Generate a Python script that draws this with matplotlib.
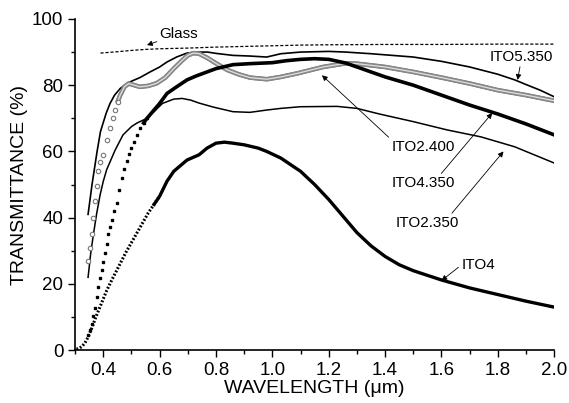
import matplotlib
matplotlib.use("Agg")
import matplotlib.pyplot as plt
import matplotlib.patheffects as pe
import numpy as np

plt.rcParams['font.family'] = ['Liberation Sans', 'DejaVu Sans']

# wavelength (um) / transmittance (%)
glass_x = [0.39, 0.45, 0.5, 0.55, 0.6, 0.7, 0.8, 0.9, 1.0, 1.1, 1.2, 1.4, 1.6, 1.8, 2.0]
glass_y = [89.7, 90.1, 90.5, 90.8, 91.0, 91.2, 91.5, 91.7, 91.9, 92.1, 92.2, 92.3, 92.3, 92.4, 92.4]

ito5350_x = [0.346, 0.36, 0.378, 0.39, 0.41, 0.424, 0.44, 0.46, 0.48, 0.5, 0.53, 0.566,
             0.6, 0.626, 0.66, 0.697, 0.73, 0.77, 0.8, 0.86, 0.92, 0.98, 1.03, 1.1,
             1.2, 1.26, 1.35, 1.5, 1.6, 1.7, 1.8, 1.86, 1.9, 1.95, 2.0]
ito5350_y = [41, 50, 60, 66, 71.5, 74.5, 77, 79, 80.3, 81.2, 82.3, 84,
             85.5, 87, 88.5, 89.7, 90, 90, 89.6, 89, 88.8, 88.5, 89.5, 90,
             90.2, 90, 89.5, 88.5, 87.2, 85.5, 83.3, 81.6, 80.2, 78.5, 76.5]

ito2400_x = [0.347, 0.353, 0.359, 0.365, 0.371, 0.377, 0.383, 0.39, 0.4, 0.412, 0.424,
             0.433, 0.442, 0.451, 0.46, 0.475, 0.49, 0.51, 0.53, 0.56, 0.59, 0.62,
             0.65, 0.68, 0.7, 0.72, 0.74, 0.77, 0.8, 0.84, 0.88, 0.92, 0.98, 1.03,
             1.09, 1.18, 1.26, 1.3, 1.4, 1.5, 1.6, 1.7, 1.8, 1.9, 2.0]
ito2400_y = [27, 31, 35, 40, 45, 49.5, 54, 56.8, 59, 63.5, 67,
             70, 72.5, 75, 77, 79.5, 80.5, 80, 79.5, 79.8, 80.6, 82.3,
             85, 87.5, 89, 89.7, 89.5, 88.2, 86.6, 84.6, 83.3, 82.3, 81.8, 82.5,
             83.6, 85.5, 86.6, 86.5, 85.5, 84, 82.3, 80.5, 78.5, 77, 75.3]

ito4350_x = [0.346, 0.352, 0.359, 0.365, 0.371, 0.377, 0.383, 0.389, 0.395, 0.4, 0.406,
             0.412, 0.418, 0.424, 0.43, 0.439, 0.448, 0.457, 0.466, 0.475, 0.484,
             0.492, 0.5, 0.51, 0.52, 0.53, 0.543, 0.555, 0.6, 0.626, 0.66, 0.697,
             0.73, 0.768, 0.8, 0.86, 0.92, 1.0, 1.05, 1.1, 1.15, 1.2, 1.26, 1.3,
             1.4, 1.5, 1.6, 1.7, 1.8, 1.9, 2.0]
ito4350_y = [4.5, 6, 8, 10.3, 12.7, 16, 19, 21.7, 24.2, 26.7, 29.2,
             32, 35, 37.2, 39.3, 42, 44.5, 48.5, 52, 54.6, 57,
             59.2, 61, 63, 65, 67, 68.6, 70, 74.5, 77.5, 79.5, 81.6,
             82.8, 84, 85, 86.2, 86.5, 86.8, 87.4, 87.8, 88, 87.8, 86.7, 85.5,
             82.5, 80, 77, 74, 71.3, 68.3, 65]

ito2350_x = [0.346, 0.355, 0.365, 0.377, 0.389, 0.4, 0.412, 0.442, 0.47, 0.5, 0.52,
             0.555, 0.58, 0.61, 0.65, 0.68, 0.71, 0.74, 0.79, 0.86, 0.92, 0.98,
             1.03, 1.1, 1.23, 1.3, 1.38, 1.5, 1.62, 1.74, 1.86, 1.9, 2.0]
ito2350_y = [22, 29, 35, 41.5, 47, 51, 54.5, 60.4, 65, 67.5, 68.6,
             70, 72, 74.5, 75.8, 76, 75.5, 74.6, 73.4, 72, 71.8, 72.5,
             73, 73.5, 73.6, 73, 71.3, 69, 66.5, 64.4, 61.4, 60, 56.5]

ito4_x = [0.305, 0.315, 0.325, 0.335, 0.345, 0.355, 0.365, 0.375, 0.388, 0.4, 0.412,
          0.425, 0.438, 0.45, 0.465, 0.48, 0.5, 0.52, 0.54, 0.56, 0.58, 0.6,
          0.626, 0.65, 0.697, 0.74, 0.768, 0.8, 0.83, 0.86, 0.9, 0.95, 0.98,
          1.03, 1.1, 1.15, 1.2, 1.25, 1.3, 1.35, 1.4, 1.45, 1.5, 1.6, 1.7, 1.8,
          1.9, 2.0]
ito4_y = [0.3, 0.6, 1.2, 2.2, 3.8, 5.8, 8, 10.3, 13, 15.5, 18,
          20.3, 22.5, 24.5, 27, 29.5, 32.5, 35.5, 38.5, 41.5, 44, 46.5,
          51, 54, 57.4, 59, 61, 62.5, 62.8, 62.5, 62, 61, 60,
          58, 54, 50, 45.5, 40.5, 35.5, 31.5, 28.3, 25.8, 24, 21.2, 18.8, 16.8,
          14.8, 13]

fig = plt.figure(figsize=(5.69, 4.03), dpi=100)
ax = fig.add_axes([0.132, 0.131, 0.842, 0.822])

ax.plot(glass_x, glass_y, color='black', lw=0.9, ls=(0, (2.5, 1.5)))
ax.plot(ito5350_x, ito5350_y, color='black', lw=1.2)
ax.plot(ito2350_x, ito2350_y, color='black', lw=1.1)

# ITO2.400: chain of grey hollow circles
x24 = np.array(ito2400_x)
y24 = np.array(ito2400_y)
steep = x24 < 0.46
ax.plot(x24[x24 >= 0.451], y24[x24 >= 0.451], color='#8a8a8a', lw=3.0,
        solid_capstyle='round',
        path_effects=[pe.Stroke(linewidth=3.3, foreground='#707070'), pe.Normal()])
ax.plot(x24[x24 >= 0.451], y24[x24 >= 0.451], color='#e0e0e0', lw=0.9)
ax.plot(x24[steep], y24[steep], ls='none', marker='o', ms=3.2, mfc='white',
        mec='#777777', mew=0.8)

# ITO4.350: dotted start then thick line
x43 = np.array(ito4350_x)
y43 = np.array(ito4350_y)
ax.plot(x43[x43 <= 0.555], y43[x43 <= 0.555], ls='none', marker='s', ms=2.0,
        color='black')
ax.plot(x43[x43 >= 0.543], y43[x43 >= 0.543], color='black', lw=2.6)

# ITO4: fine dots then thick line
x4 = np.array(ito4_x)
y4 = np.array(ito4_y)
ax.plot(x4[x4 <= 0.6], y4[x4 <= 0.6], color='black', lw=2.2, ls=(0, (0.6, 0.6)))
ax.plot(x4[x4 >= 0.58], y4[x4 >= 0.58], color='black', lw=2.4)

arrow = dict(arrowstyle='-|>', color='black', lw=0.6, mutation_scale=8,
             shrinkA=0, shrinkB=0)
fs = 11
ax.annotate('Glass', xy=(0.555, 92.1), xytext=(0.6, 95.5), fontsize=fs,
            va='center', ha='left', arrowprops=arrow)
ax.annotate('ITO5.350', xy=(1.87, 81.6), xytext=(1.885, 88.5), fontsize=fs,
            va='center', ha='center', arrowprops=arrow)
ax.annotate('ITO2.400', xy=(1.176, 83), xytext=(1.535, 61.4), fontsize=fs,
            va='center', ha='center',
            arrowprops=dict(arrow, relpos=(0.0, 1.0)))
ax.annotate('ITO4.350', xy=(1.78, 71.6), xytext=(1.535, 50.4), fontsize=fs,
            va='center', ha='center',
            arrowprops=dict(arrow, relpos=(0.75, 1.0)))
ax.annotate('ITO2.350', xy=(1.82, 60), xytext=(1.55, 38.4), fontsize=fs,
            va='center', ha='center',
            arrowprops=dict(arrow, relpos=(0.85, 1.0)))
ax.annotate('ITO4', xy=(1.6, 21), xytext=(1.73, 25.7), fontsize=fs,
            va='center', ha='center',
            arrowprops=dict(arrow, relpos=(0.0, 0.5)))

ax.set_xlim(0.3, 2.0)
ax.set_ylim(0, 100)
ax.set_xticks(np.arange(0.4, 2.01, 0.2))
ax.set_xticks(np.arange(0.3, 2.01, 0.1), minor=True)
ax.set_yticks(np.arange(0, 101, 20))
ax.set_yticks(np.arange(10, 100, 20), minor=True)
ax.set_xticklabels(['%.1f' % v for v in np.arange(0.4, 2.01, 0.2)])
ax.tick_params(which='major', direction='out', length=5, width=1, labelsize=13.5)
ax.tick_params(which='minor', direction='out', length=3, width=1)
ax.spines['top'].set_visible(False)
ax.spines['right'].set_visible(False)
ax.spines['left'].set_linewidth(1.2)
ax.spines['bottom'].set_linewidth(1.2)
ax.set_xlabel('WAVELENGTH (\u03bcm)', fontsize=14, labelpad=1)
ax.set_ylabel('TRANSMITTANCE (%)', fontsize=14, labelpad=3)

fig.savefig('out.png', dpi=100)
